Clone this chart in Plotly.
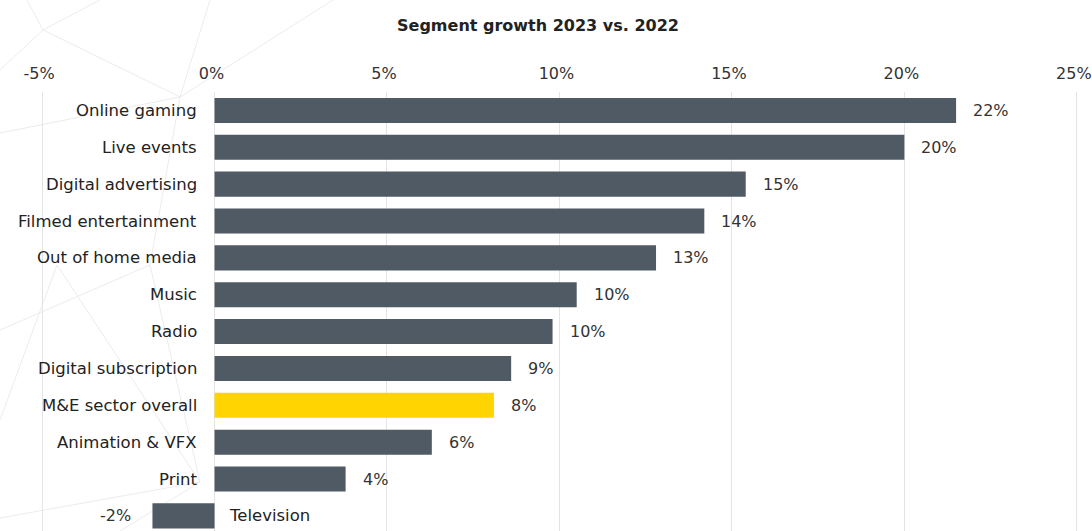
import plotly.graph_objects as go

# Segment growth, 2023 vs. 2022 (percent), top to bottom
segments = [
    "Online gaming", "Live events", "Digital advertising", "Filmed entertainment",
    "Out of home media", "Music", "Radio", "Digital subscription",
    "M&E sector overall", "Animation & VFX", "Print", "Television",
]
growth = [21.5, 20.0, 15.4, 14.2, 12.8, 10.5, 9.8, 8.6, 8.1, 6.3, 3.8, -1.8]
highlight = "M&E sector overall"

tick_values = [-5, 0, 5, 10, 15, 20, 25]
tick_labels = ["-5%", "0%", "5%", "10%", "15%", "20%", "25%"]

FONT = "DejaVu Sans"
BAR_GREY = "#4f5a65"
BAR_YELLOW = "#ffd400"
TEXT = "#222222"

bar_colors = [BAR_YELLOW if s == highlight else BAR_GREY for s in segments]

fig = go.Figure()
fig.add_trace(go.Bar(
    x=growth, y=segments, orientation="h",
    marker=dict(color=bar_colors, line=dict(width=0)),
    width=0.68, hoverinfo="skip",
))

annotations = []
for seg, val in zip(segments, growth):
    label = f"{val:.0f}%"
    if val >= 0:
        # category name left of the zero line, value right of the bar end
        annotations.append(dict(x=0, y=seg, text=seg, xanchor="right", xshift=-16,
                                showarrow=False, font=dict(family=FONT, size=16.5, color=TEXT)))
        annotations.append(dict(x=val, y=seg, text=label, xanchor="left", xshift=15,
                                showarrow=False, font=dict(family=FONT, size=16, color="#333333")))
    else:
        # negative bar: name goes right of zero, value left of the bar
        annotations.append(dict(x=0, y=seg, text=seg, xanchor="left", xshift=12,
                                showarrow=False, font=dict(family=FONT, size=16.5, color=TEXT)))
        annotations.append(dict(x=val, y=seg, text=label, xanchor="right", xshift=-19,
                                showarrow=False, font=dict(family=FONT, size=16, color="#333333")))

# faint decorative network lines in the background (pixel coordinates of the page)
web = [
    ((27, 0), (43, 30)), ((43, 30), (180, 97)), ((43, 30), (100, 0)), ((0, 70), (43, 30)),
    ((210, 0), (180, 97)), ((180, 97), (333, 0)), ((180, 97), (150, 265)), ((0, 133), (180, 97)),
    ((57, 265), (200, 482)), ((0, 518), (200, 482)), ((150, 265), (0, 330)),
    ((200, 482), (120, 531)), ((150, 265), (200, 482)), ((0, 420), (57, 265)),
]
shapes = []
for (x0, y0), (x1, y1) in web:
    shapes.append(dict(type="line", xref="paper", yref="paper", layer="below",
                       x0=x0 / 1092, x1=x1 / 1092,
                       y0=(531 - y0) / 439, y1=(531 - y1) / 439,
                       line=dict(color="#ececec", width=1)))

fig.update_layout(
    width=1092, height=531,
    margin=dict(l=0, r=0, t=92, b=0),
    paper_bgcolor="white", plot_bgcolor="rgba(0,0,0,0)",
    showlegend=False,
    title=dict(text="<b>Segment growth 2023 vs. 2022</b>", x=538 / 1092, xanchor="center",
               y=1 - 25 / 531, yanchor="middle",
               font=dict(family=FONT, size=16, color="#222222")),
    xaxis=dict(side="top", range=[-6.22, 25.44], tickvals=tick_values, ticktext=tick_labels,
               showgrid=True, gridcolor="#e4e4e4", gridwidth=1, zeroline=False,
               showline=False, ticks="", ticklabelstandoff=9, ticklabelshift=-3,
               ticklabeloverflow="allow",
               tickfont=dict(family=FONT, size=16, color="#333333")),
    yaxis=dict(range=[11.41, -0.5], showticklabels=False, showgrid=False,
               zeroline=False, showline=False, ticks=""),
    annotations=annotations,
    shapes=shapes,
)

fig.write_html("out.html")
